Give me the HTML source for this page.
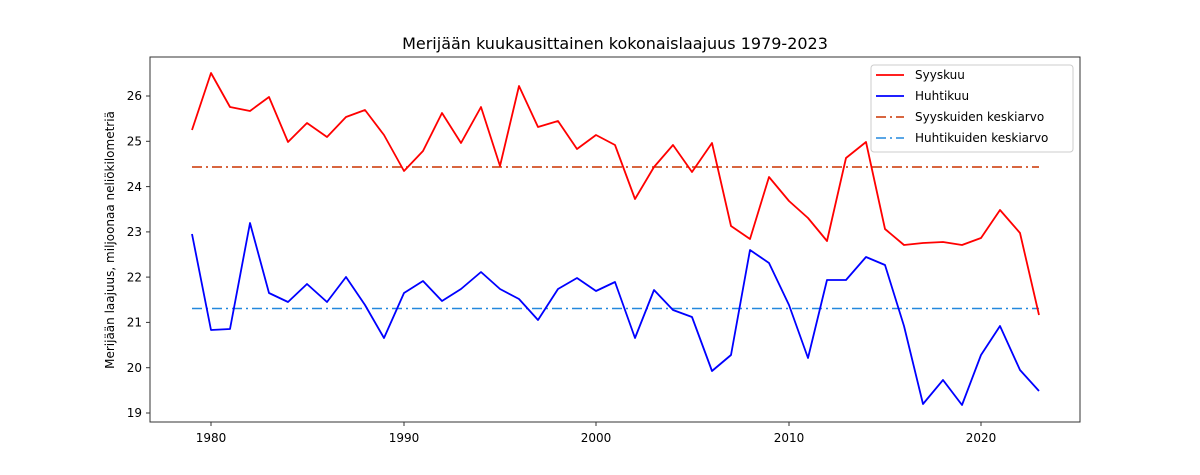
<!DOCTYPE html>
<html><head><meta charset="utf-8"><style>body{margin:0;background:#fff}svg{display:block}text{font-family:"DejaVu Sans","Liberation Sans",sans-serif;fill:#000}</style></head><body>
<svg width="1200" height="475" viewBox="0 0 1200 475" xmlns="http://www.w3.org/2000/svg">
<rect width="1200" height="475" fill="#fff"/>
<text x="615" y="49" font-size="16" text-anchor="middle">Merijään kuukausittainen kokonaislaajuus 1979-2023</text>
<line x1="192" y1="167" x2="1039" y2="167" stroke="#cc3300" stroke-width="1.5" stroke-dasharray="10,4,2,4"/>
<line x1="192" y1="308.5" x2="1039" y2="308.5" stroke="#2288dd" stroke-width="1.5" stroke-dasharray="10,4,2,4"/>
<polyline fill="none" stroke="#ff0000" stroke-width="1.8" stroke-linejoin="round" points="192,130 211,73 230,107 250,111 269,97 288,142 307,123 327,137 346,117 365,110 384,135 404,171 423,151 442,113 461,143 481,107 500,166 519,86 538,127 558,121 577,149 596,135 615,145 635,199 654,167 673,145 692,172 712,143 731,226 750,239 769,177 789,201 808,218 827,241 846,158 866,142 885,229 904,245 923,243 943,242 962,245 981,238 1000,210 1020,233 1039,315"/>
<polyline fill="none" stroke="#0000ff" stroke-width="1.8" stroke-linejoin="round" points="192,234 211,330 230,329 250,223 269,293 288,302 307,284 327,302 346,277 365,305 384,338 404,293 423,281 442,301 461,289 481,272 500,289 519,299 538,320 558,289 577,278 596,291 615,282 635,338 654,290 673,310 692,317 712,371 731,355 750,250 769,263 789,305 808,358 827,280 846,280 866,257 885,265 904,326 923,404 943,380 962,405 981,355 1000,326 1020,370 1039,391"/>
<rect x="150" y="57" width="930" height="365" fill="none" stroke="#333" stroke-width="1"/>
<g stroke="#333" stroke-width="1">
<line x1="211" y1="422" x2="211" y2="426"/><line x1="404" y1="422" x2="404" y2="426"/><line x1="596" y1="422" x2="596" y2="426"/><line x1="789" y1="422" x2="789" y2="426"/><line x1="981" y1="422" x2="981" y2="426"/>
<line x1="146" y1="96" x2="150" y2="96"/><line x1="146" y1="141.3" x2="150" y2="141.3"/><line x1="146" y1="186.6" x2="150" y2="186.6"/><line x1="146" y1="231.9" x2="150" y2="231.9"/><line x1="146" y1="277.1" x2="150" y2="277.1"/><line x1="146" y1="322.4" x2="150" y2="322.4"/><line x1="146" y1="367.7" x2="150" y2="367.7"/><line x1="146" y1="413" x2="150" y2="413"/>
</g>
<g font-size="12" text-anchor="middle">
<text x="211" y="442">1980</text><text x="404" y="442">1990</text><text x="596" y="442">2000</text><text x="789" y="442">2010</text><text x="981" y="442">2020</text>
</g>
<g font-size="12" text-anchor="end">
<text x="142" y="100">26</text><text x="142" y="145.5">25</text><text x="142" y="190.8">24</text><text x="142" y="236">23</text><text x="142" y="281.3">22</text><text x="142" y="326.6">21</text><text x="142" y="371.9">20</text><text x="142" y="417.2">19</text>
</g>
<text transform="translate(114,240) rotate(-90)" font-size="12" text-anchor="middle">Merijään laajuus, miljoonaa neliökilometriä</text>
<rect x="871" y="65" width="202" height="87" rx="3" fill="#fff" stroke="#ccc" stroke-width="1"/>
<line x1="876" y1="75" x2="904" y2="75" stroke="#ff0000" stroke-width="1.8"/>
<line x1="876" y1="96" x2="904" y2="96" stroke="#0000ff" stroke-width="1.8"/>
<line x1="876" y1="117" x2="904" y2="117" stroke="#cc3300" stroke-width="1.5" stroke-dasharray="10,4,2,4"/>
<line x1="876" y1="138" x2="904" y2="138" stroke="#2288dd" stroke-width="1.5" stroke-dasharray="10,4,2,4"/>
<g font-size="12"><text x="915" y="79">Syyskuu</text><text x="915" y="100">Huhtikuu</text><text x="915" y="121">Syyskuiden keskiarvo</text><text x="915" y="142">Huhtikuiden keskiarvo</text></g>
</svg>
</body></html>
